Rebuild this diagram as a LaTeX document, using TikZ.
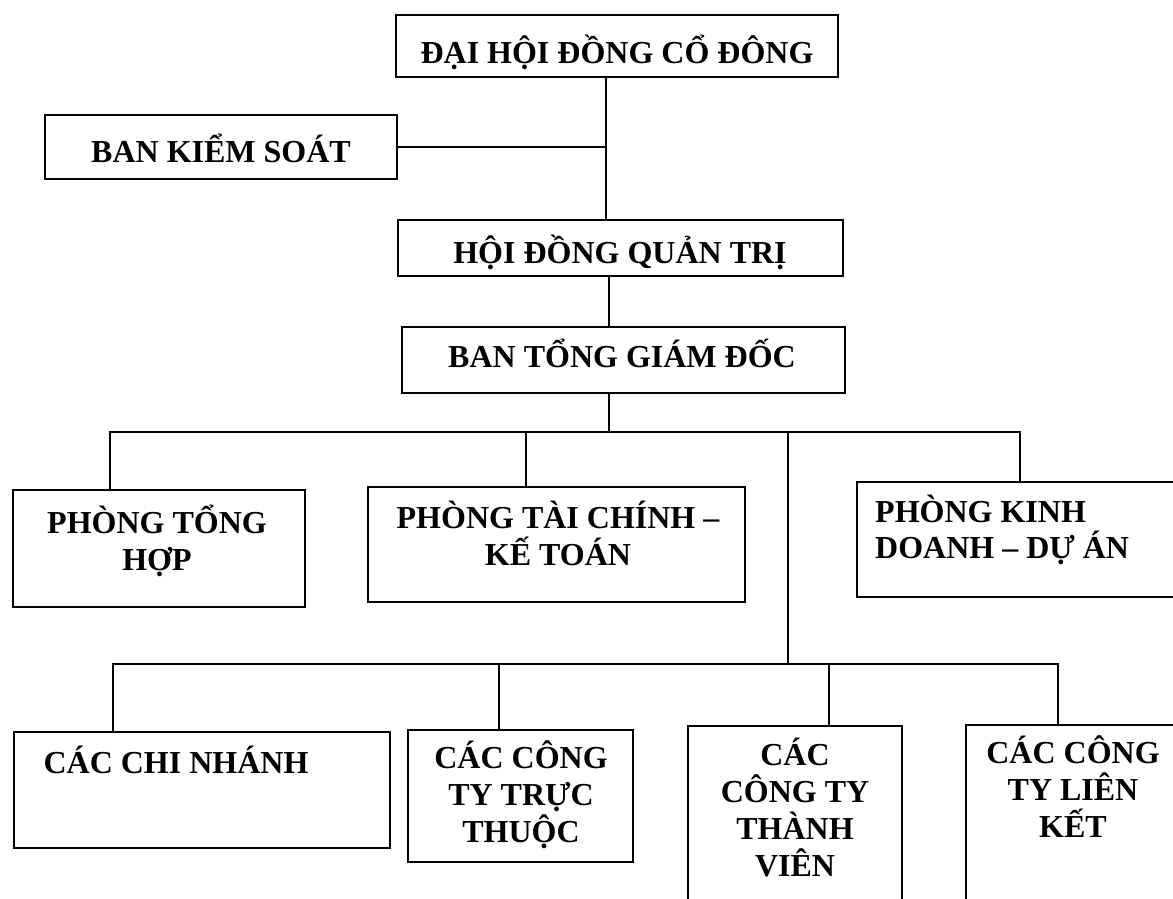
\documentclass[tikz,border=0pt]{standalone}
\usepackage{fontspec}
\setmainfont{Liberation Serif}
\newcommand\mlines[1]{\vtop{\baselineskip=37pt\lineskiplimit=-100pt\halign{\hfil##\hfil\cr#1\crcr}}}
\newcommand\mlinesl[1]{\vtop{\baselineskip=36pt\lineskiplimit=-100pt\halign{##\hfil\cr#1\crcr}}}
\begin{document}
\begin{tikzpicture}[x=1pt,y=-1pt,
  box/.style={draw, rectangle, line width=1.8pt, inner sep=0pt},
  txt/.style={inner sep=0pt, anchor=base, font=\bfseries\fontsize{32}{37}\selectfont},
  link/.style={line width=1.8pt}]
\useasboundingbox (0,0) rectangle (1173,898);
\clip (0,0) rectangle (1173,898);
\fill[white] (0,0) rectangle (1173,898);
% boxes
\node[box, minimum width=442pt, minimum height=62pt] (dh) at (617,46) {};
\node[box, minimum width=352pt, minimum height=64pt] (bk) at (221,147) {};
\node[box, minimum width=445pt, minimum height=56pt] (hd) at (620.5,248) {};
\node[box, minimum width=443pt, minimum height=66pt] (bt) at (623.5,360) {};
\node[box, minimum width=292pt, minimum height=117pt] (pth) at (159,548.5) {};
\node[box, minimum width=377pt, minimum height=115pt] (ptc) at (556.5,544.5) {};
\node[box, minimum width=328pt, minimum height=115pt] (pkd) at (1021,539.5) {};
\node[box, minimum width=376pt, minimum height=116pt] (cn) at (202,790) {};
\node[box, minimum width=225pt, minimum height=132pt] (tt) at (520.5,796) {};
\node[box, minimum width=214pt, minimum height=184pt] (tv) at (795,818) {};
\node[box, minimum width=219pt, minimum height=185pt] (lk) at (1075.5,817.5) {};
% texts
\node[txt] (tdh) at (617,63) {ĐẠI HỘI ĐỒNG CỔ ĐÔNG};
\node[txt] (tbk) at (221,162) {BAN KIỂM SOÁT};
\node[txt] (thd) at (620,263) {HỘI ĐỒNG QUẢN TRỊ};
\node[txt] (tbt) at (622,367) {BAN TỔNG GIÁM ĐỐC};
\node[txt] (tpth) at (157,533) {\mlines{PHÒNG TỔNG\cr HỢP}};
\node[txt] (tptc) at (558,528) {\mlines{PHÒNG TÀI CHÍNH –\cr KẾ TOÁN}};
\node[txt, anchor=base west] (tpkd) at (875,522) {\mlinesl{PHÒNG KINH\cr DOANH – DỰ ÁN}};
\node[txt] (tcn) at (176,773) {CÁC CHI NHÁNH};
\node[txt] (ttt) at (521,768) {\mlines{CÁC CÔNG\cr TY TRỰC\cr THUỘC}};
\node[txt] (ttv) at (795,765) {\mlines{CÁC\cr CÔNG TY\cr THÀNH\cr VIÊN}};
\node[txt] (tlk) at (1073,763) {\mlines{CÁC CÔNG\cr TY LIÊN\cr KẾT}};
% reference coordinates
\coordinate (tr1) at (606,0);
\coordinate (tr2) at (609,0);
\coordinate (tr3) at (788,0);
\coordinate (b1) at (0,432);
\coordinate (b2) at (0,664);
\coordinate (d1) at (110,0);
\coordinate (d2) at (526,0);
\coordinate (d3) at (1020,0);
\coordinate (e1) at (113,0);
\coordinate (e2) at (499,0);
\coordinate (e3) at (829,0);
\coordinate (e4) at (1058,0);
% connectors
\draw[link] (dh.south -| tr1) -- (hd.north -| tr1);
\draw[link] (bk.east) -- (bk.east -| tr1);
\draw[link] (hd.south -| tr2) -- (bt.north -| tr2);
\draw[link] (bt.south -| tr2) -- (b1 -| tr2);
\draw[link] (pth.north -| d1) |- (b1 -| d3) -- (pkd.north -| d3);
\draw[link] (ptc.north -| d2) -- (b1 -| d2);
\draw[link] (b1 -| tr3) -- (b2 -| tr3);
\draw[link] (cn.north -| e1) |- (b2 -| e4) -- (lk.north -| e4);
\draw[link] (tt.north -| e2) -- (b2 -| e2);
\draw[link] (tv.north -| e3) -- (b2 -| e3);
\end{tikzpicture}
\end{document}
